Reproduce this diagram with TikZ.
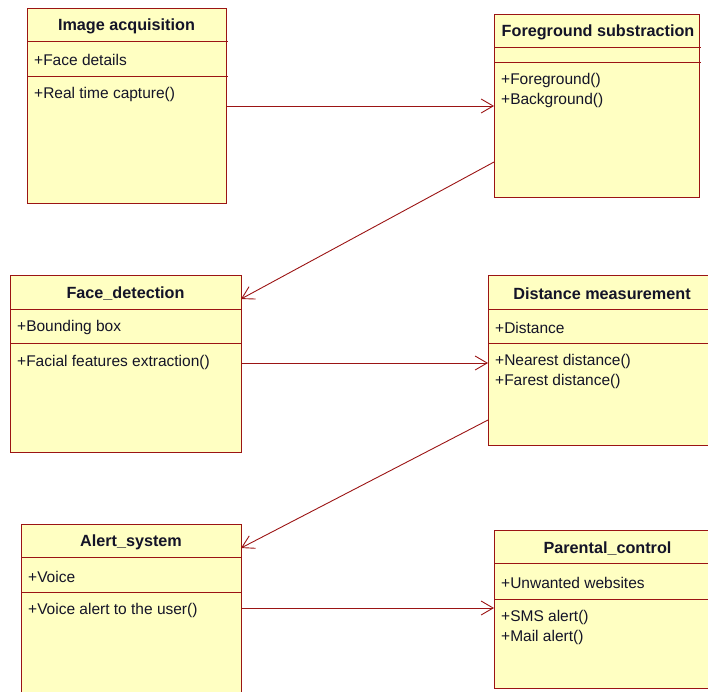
\documentclass[tikz,border=0pt]{standalone}
\usepackage{fontspec}
\setmainfont{Liberation Sans}
\usetikzlibrary{arrows.meta}
\definecolor{umlred}{RGB}{155,20,20}
\definecolor{umlfill}{RGB}{255,255,194}
\definecolor{umltext}{RGB}{20,20,40}
\begin{document}
\begin{tikzpicture}[x=1pt,y=-1pt,
  cls/.style={draw=umlred, fill=umlfill, line width=1pt, anchor=north west, inner sep=0pt, outer sep=0pt},
  sepline/.style={draw=umlred, line width=0.9pt},
  ttl/.style={font=\bfseries\fontsize{16.2}{19}\selectfont, text=umltext, inner sep=0pt, yshift=-1.5pt},
  txt/.style={font=\fontsize{15.5}{20}\selectfont, text=umltext, anchor=west, inner sep=0pt, yshift=-1.5pt},
  conn/.style={draw=umlred, line width=0.9pt, -{Straight Barb[length=12pt,width=14pt,line width=0.9pt]}}]
\useasboundingbox (0,0) rectangle (708,691);
\clip (0,0) rectangle (708,691);

% Image acquisition
\node[cls, minimum width=199pt, minimum height=195pt] (ia) at (27,8) {};
\draw[sepline] (27,41.5) -- (228,41.5);
\draw[sepline] (27,76) -- (228,76);
\node[ttl] (iat) at (126.5,25) {Image acquisition};
\node[txt] (iaa) at (34,58) {+Face details};
\node[txt] (iao) at (34,93) {+Real time capture()};

% Foreground substraction
\node[cls, minimum width=205pt, minimum height=183pt] (fs) at (494,14) {};
\draw[sepline] (494,47.5) -- (701,47.5);
\draw[sepline] (494,62) -- (701,62);
\node[ttl] (fst) at (598,31) {Foreground substraction};
\node[txt] (fso1) at (501,79) {+Foreground()};
\node[txt] (fso2) at (501,99) {+Background()};

% Face_detection
\node[cls, minimum width=231pt, minimum height=177pt] (fd) at (10,275) {};
\draw[sepline] (10,309) -- (242,309);
\draw[sepline] (10,343) -- (242,343);
\node[ttl] (fdt) at (125.5,292) {Face\_detection};
\node[txt] (fda) at (17,326) {+Bounding box};
\node[txt] (fdo) at (17,361) {+Facial features extraction()};

% Distance measurement
\node[cls, minimum width=228pt, minimum height=170pt] (dm) at (488,275) {};
\draw[sepline] (488,309) -- (716,309);
\draw[sepline] (488,343) -- (716,343);
\node[ttl] (dmt) at (602,292) {Distance measurement};
\node[txt] (dma) at (495,326) {+Distance};
\node[txt] (dmo1) at (495,360) {+Nearest distance()};
\node[txt] (dmo2) at (495,380) {+Farest distance()};

% Alert_system
\node[cls, minimum width=220pt, minimum height=180pt] (as) at (21,524) {};
\draw[sepline] (21,557) -- (242,557);
\draw[sepline] (21,592) -- (242,592);
\node[ttl] (ast) at (131,541) {Alert\_system};
\node[txt] (asa) at (28,575) {+Voice};
\node[txt] (aso) at (28,609) {+Voice alert to the user()};

% Parental_control
\node[cls, minimum width=227pt, minimum height=158pt] (pc) at (494,530) {};
\draw[sepline] (494,563) -- (721,563);
\draw[sepline] (494,599) -- (721,599);
\node[ttl] (pct) at (607.5,547) {Parental\_control};
\node[txt] (pca) at (501,581) {+Unwanted websites};
\node[txt] (pco1) at (501,616) {+SMS alert()};
\node[txt] (pco2) at (501,636) {+Mail alert()};

% connectors
\draw[conn] ([yshift=-98pt]ia.north east) -- ([yshift=-92pt]fs.north west);
\draw[conn] ([yshift=-148pt]fs.north west) -- ([yshift=-24pt]fd.north east);
\draw[conn] ([yshift=-88pt]fd.north east) -- ([yshift=-88pt]dm.north west);
\draw[conn] ([yshift=-145pt]dm.north west) -- ([yshift=-24pt]as.north east);
\draw[conn] ([yshift=-84pt]as.north east) -- ([yshift=-78pt]pc.north west);
\end{tikzpicture}
\end{document}
